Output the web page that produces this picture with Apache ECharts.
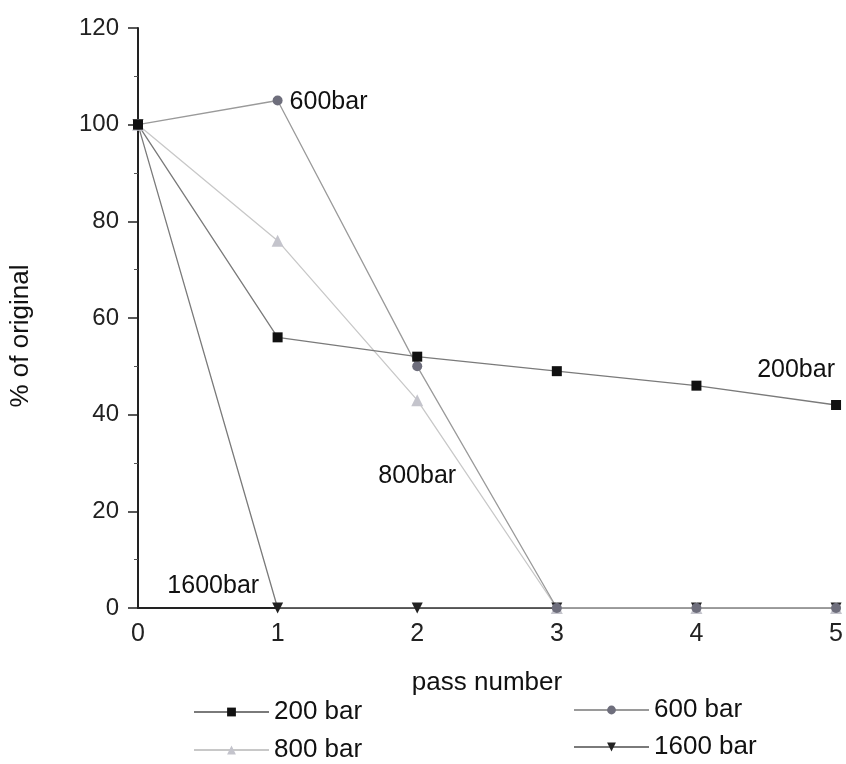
<!DOCTYPE html>
<html><head><meta charset="utf-8">
<script src="https://cdn.jsdelivr.net/npm/echarts@6/dist/echarts.min.js"></script>
<style>html,body{margin:0;padding:0;background:#fff}#c{width:846px;height:764px}</style>
</head><body><div id="c"></div>
<script>
const passNumbers = [0, 1, 2, 3, 4, 5];
const s200 = [100, 56, 52, 49, 46, 42];
const s600 = [100, 105, 50, 0, 0, 0];
const s800 = [100, 76, 43, 0, 0, 0];
const s1600 = [100, 0, 0, 0, 0, 0];
const seriesNames = ['200 bar', '600 bar', '800 bar', '1600 bar'];
const annotations = {'200 bar': [5, '200bar'], '600 bar': [1, '600bar'], '800 bar': [2, '800bar'], '1600 bar': [1, '1600bar']};

const font = 'Liberation Sans, Arial, sans-serif';
function pts(arr){ return passNumbers.map((x,i)=>[x, arr[i]]); }
const annStyle = {
  '200 bar': {position:'top', offset:[-40,-12]},
  '600 bar': {position:'right', offset:[2,2]},
  '800 bar': {position:'bottom', offset:[0,52]},
  '1600 bar': {position:'left', offset:[-8,-22]}
};
function withLabel(name, arr){
  const [idx, txt] = annotations[name];
  return pts(arr).map((p,i)=> i===idx ? {value:p, label:Object.assign({show:true, formatter:txt, fontFamily:font, fontSize:25, color:'#111'}, annStyle[name])} : p);
}
const styles = {
  '200 bar': {symbol:'rect', size:10, mcolor:'#111', lcolor:'#7a7a7a'},
  '600 bar': {symbol:'circle', size:10, mcolor:'#6e6e7c', lcolor:'#9a9a9a'},
  '800 bar': {symbol:'triangle', size:12, mcolor:'#c4c4cc', lcolor:'#c8c8c8'},
  '1600 bar': {symbol:'path://M0,0 L10,0 L5,9 Z', size:11, mcolor:'#222', lcolor:'#7a7a7a'}
};
const dataMap = {'200 bar': s200, '600 bar': s600, '800 bar': s800, '1600 bar': s1600};
const order = ['1600 bar', '800 bar', '600 bar', '200 bar'];
const series = order.map(name => ({
  name, type:'line', data: withLabel(name, dataMap[name]),
  symbol: styles[name].symbol, symbolSize: styles[name].size,
  itemStyle:{color: styles[name].mcolor},
  lineStyle:{color: styles[name].lcolor, width:1.3},
  label:{show:false}, animation:false, z: 3
}));
const legendPos = [
  {name:'200 bar', left:188, top:694},
  {name:'600 bar', left:568, top:692},
  {name:'800 bar', left:188, top:732},
  {name:'1600 bar', left:568, top:729}
];
const legends = legendPos.map(l => ({
  data:[l.name], left:l.left, top:l.top, itemWidth:75, itemHeight:11, itemGap:4,
  textStyle:{fontFamily:font, fontSize:26, color:'#111'}, selectedMode:false
}));
const chart = echarts.init(document.getElementById('c'), null, {renderer:'canvas'});
chart.setOption({
  backgroundColor:'#fff',
  animation:false,
  grid:{left:137, right:8, top:28, bottom:156, containLabel:false},
  legend: legends,
  xAxis:{type:'value', min:0, max:5, interval:1,
    name:'pass number', nameLocation:'middle', nameGap:62,
    nameTextStyle:{fontFamily:font, fontSize:26, color:'#111'},
    axisLine:{lineStyle:{color:'#222', width:2}}, axisTick:{show:false},
    axisLabel:{fontFamily:font, fontSize:25, color:'#222', margin:14},
    splitLine:{show:false}},
  yAxis:{type:'value', min:0, max:120, interval:20,
    name:'% of original', nameLocation:'middle', nameGap:104, nameRotate:90,
    nameTextStyle:{fontFamily:font, fontSize:26, color:'#111', padding:[0,36,0,0]},
    axisLine:{show:true, lineStyle:{color:'#222', width:2}},
    axisTick:{show:true, length:10, lineStyle:{color:'#222', width:1.5}},
    minorTick:{show:true, splitNumber:2, length:4, lineStyle:{color:'#555'}},
    axisLabel:{fontFamily:font, fontSize:24, color:'#222', margin:19},
    splitLine:{show:false}},
  series
});
</script></body></html>
